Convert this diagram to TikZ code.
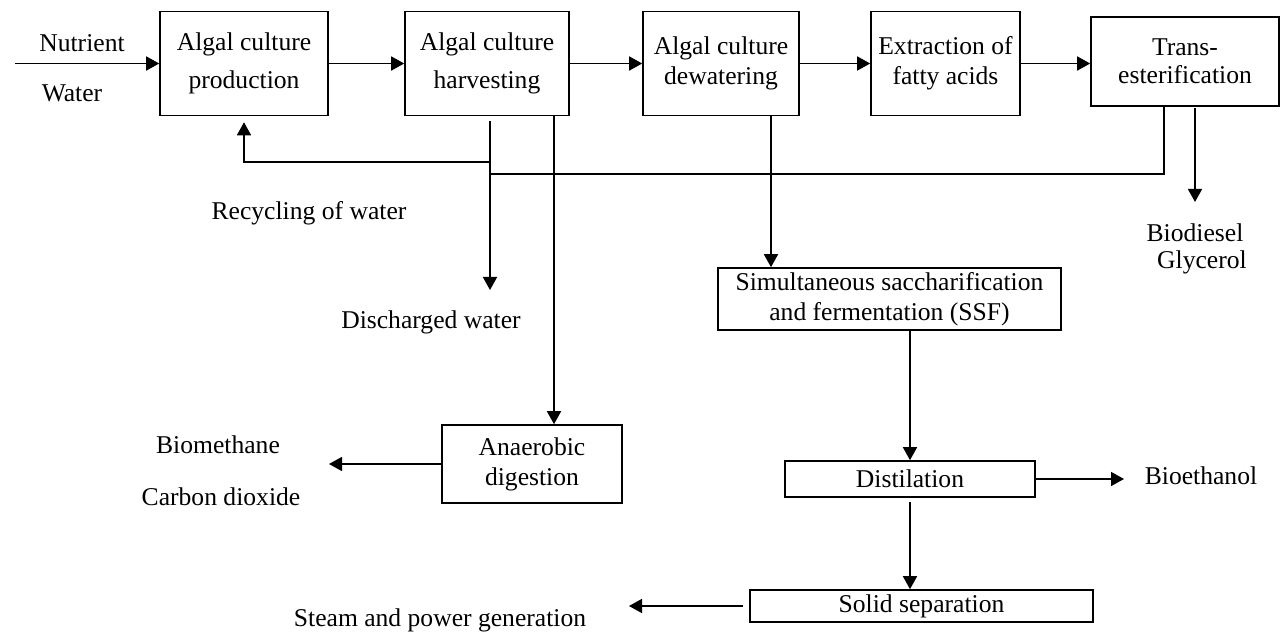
\documentclass[tikz,border=0pt]{standalone}
\usepackage{fontspec}
\setmainfont{Liberation Serif}
\usepackage{tikz}
\usetikzlibrary{positioning, arrows.meta}

\begin{document}
\begin{tikzpicture}[
    x=0.5pt, y=-0.5pt,
    >={Triangle[length=6.5pt, width=7pt]},
    line width=0.8pt,
    font=\fontsize{12.8}{15}\selectfont,
    block/.style={draw, inner sep=0pt, align=center},
    lbl/.style={inner sep=0pt, align=center},
    arrow/.style={->},
]
\useasboundingbox (0,0) rectangle (1281,636);

% Main line
\node[block, minimum width=84pt, minimum height=52pt] (prod) at (244,63.5) {Algal culture\\[4pt]production};
\node[block, minimum width=82pt, minimum height=52pt] (harv) at (487,63.5) {Algal culture\\[4pt]harvesting};
\node[block, minimum width=78pt, minimum height=52pt] (dewat) at (721,63.5) {Algal culture\\dewatering};
\node[block, minimum width=74.5pt, minimum height=52pt] (extr) at (945.5,63.5) {Extraction of\\fatty acids};
\node[block, minimum width=94pt, minimum height=44.5pt] (trans) at (1185,61.5) {Trans-\\[-1pt]esterification};

% Input
\coordinate (in) at (15,63.5);
\node[lbl] (nutr) at (82,43) {Nutrient};
\node[lbl] (water) at (72,93) {Water};

\draw[arrow] (in) -- (prod);
\draw[arrow] (prod) -- (harv);
\draw[arrow] (harv) -- (dewat);
\draw[arrow] (dewat) -- (extr);
\draw[arrow] (extr.east) -- (extr.east -| trans.west);

% Recycling of water
\coordinate (hv1) at (490,121);
\coordinate (rec1) at (490,162);
\coordinate (rec2) at (490,174);
\coordinate (dis) at (490,290);
\coordinate (tr1) at (1164,106);
\node[lbl] (recyc) at (309,213) {Recycling of water};
\node[lbl] (disch) at (431,322) {Discharged water};

\draw[arrow] (hv1) -- (dis);
\draw[arrow, shorten >=3pt] (rec1) -| (prod.south);
\draw (tr1) |- (rec2);

% Biodiesel
\coordinate (tr2) at (1195,108);
\coordinate (bd) at (1195,202);
\node[lbl] (biod) at (1195,233) {Biodiesel};
\node[lbl] (glyc) at (1202,262) {Glycerol};
\draw[arrow] (tr2) -- (bd);

% Anaerobic digestion
\node[block, minimum width=90pt, minimum height=39pt] (anaer) at (532,464) {Anaerobic\\digestion};
\coordinate (hv2) at (554,116);
\draw[arrow] (hv2) -- (hv2 |- anaer.north);

\coordinate (meth) at (329,464);
\node[lbl] (biom) at (218,445) {Biomethane};
\node[lbl] (co2) at (221,497) {Carbon dioxide};
\draw[arrow] (anaer.west) -- (meth);

% SSF and ethanol
\node[block, minimum width=171.5pt, minimum height=31pt] (ssf) at (889.5,299) {Simultaneous saccharification\\and fermentation (SSF)};
\node[block, minimum width=125pt, minimum height=18pt] (dist) at (910,479) {Distilation};
\node[block, minimum width=171.5pt, minimum height=16pt] (solid) at (921.5,606) {Solid separation};

\coordinate (dw) at (771,116);
\draw[arrow] (dw) -- (dw |- ssf.north);
\draw[arrow] (dist.north |- ssf.south) -- (dist.north);

\coordinate (eth) at (1124,479);
\node[lbl] (bioe) at (1201,476) {Bioethanol};
\draw[arrow] (dist.east) -- (eth);

\draw[arrow, shorten <=2pt] (dist.south) -- (dist.south |- solid.north);

\coordinate (stm) at (629,606);
\node[lbl] (steam) at (440,620) {Steam and power generation};
\draw[arrow, shorten <=3pt] (solid.west) -- (stm);

\end{tikzpicture}
\end{document}
